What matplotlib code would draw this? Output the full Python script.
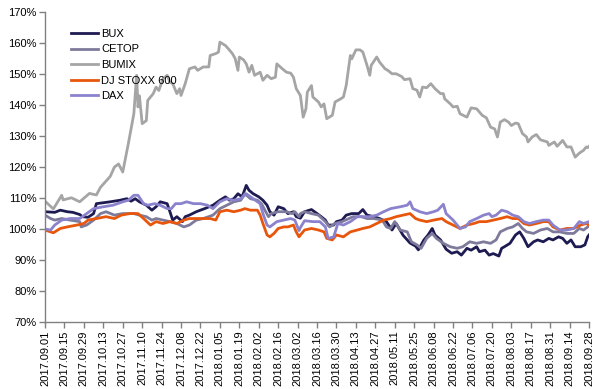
import numpy as np
import pandas as pd
import matplotlib
matplotlib.use("Agg")
import matplotlib.pyplot as plt
import matplotlib.dates as mdates
from matplotlib.ticker import FuncFormatter

plt.rcParams['font.family'] = ['Liberation Sans', 'DejaVu Sans']

start = pd.Timestamp('2017-09-01')
end = pd.Timestamp('2018-09-28')

# values in %, days counted from 2017.09.01
bumix_day = [0, 6, 12, 13, 19, 25, 32, 37, 40, 47, 50, 53, 56, 60, 64, 66, 67, 68, 70, 73,
             74, 78, 80, 82, 85, 88, 90, 92, 95, 97, 98, 101, 104, 108, 110, 114, 118, 119,
             123, 125, 126, 130, 132, 135, 137, 139, 140, 143, 145, 147, 149, 151, 155, 157,
             160, 163, 166, 167, 171, 174, 177, 179, 181, 184, 186, 188, 189, 192, 193, 197,
             199, 201, 203, 207, 209, 213, 215, 217, 220, 221, 224, 227, 229, 232, 234, 235,
             239, 241, 245, 247, 250, 253, 257, 259, 263, 265, 268, 270, 272, 275, 278, 281,
             285, 287, 288, 292, 294, 297, 299, 304, 307, 311, 315, 318, 321, 324, 326, 328,
             331, 334, 336, 339, 341, 344, 347, 348, 351, 354, 357, 362, 363, 367, 369, 373,
             376, 379, 382, 385, 388, 390, 391, 392]
bumix_val = [109.0, 106.5, 110.9, 109.4, 110.1, 108.8, 111.5, 111.0, 113.5, 117.0, 120.0, 121.0,
             118.4, 127.5, 137.2, 149.6, 139.4, 143.0, 134.0, 135.0, 141.5, 143.7, 145.8, 144.7,
             148.5, 149.6, 147.4, 146.9, 143.7, 145.3, 143.1, 146.9, 151.7, 152.3, 151.2, 152.3,
             152.3, 156.0, 156.6, 157.1, 160.3, 159.2, 158.2, 156.6, 155.0, 151.2, 155.5, 154.6,
             153.3, 150.6, 152.8, 149.6, 150.6, 148.0, 149.6, 148.5, 149.0, 153.3, 151.7, 150.6,
             150.3, 149.0, 145.3, 143.1, 136.1, 138.8, 144.2, 146.3, 142.6, 141.0, 139.4, 140.4,
             135.6, 136.7, 141.0, 142.0, 142.6, 146.3, 156.0, 154.9, 157.8, 157.8, 157.1, 152.8,
             149.6, 152.8, 155.5, 153.9, 151.7, 151.2, 150.1, 150.1, 149.2, 148.2, 148.5, 145.3,
             144.8, 142.6, 145.8, 145.6, 146.9, 145.3, 143.7, 143.7, 142.0, 140.4, 139.4, 139.6,
             137.2, 136.1, 139.1, 138.8, 136.7, 135.9, 132.9, 132.3, 129.7, 134.5, 135.3, 134.5,
             133.4, 134.2, 134.0, 130.8, 129.7, 128.1, 129.7, 130.5, 128.8, 128.1, 127.0, 128.1,
             126.7, 128.6, 126.5, 126.5, 123.2, 124.5, 125.4, 126.5, 126.3, 126.7]

bux_day = [0, 7, 11, 16, 20, 25, 27, 31, 35, 37, 47, 54, 59, 62, 65, 68, 73, 77, 80, 83, 88,
           90, 92, 95, 99, 101, 104, 109, 115, 121, 126, 130, 133, 136, 139, 142, 145, 147,
           150, 154, 157, 160, 162, 165, 168, 172, 175, 179, 181, 184, 187, 192, 196, 199, 202,
           204, 208, 210, 214, 217, 221, 226, 229, 232, 237, 241, 246, 250, 253, 258, 263, 267,
           269, 273, 276, 279, 281, 285, 289, 293, 297, 300, 304, 307, 311, 313, 317, 320, 323,
           327, 329, 331, 335, 339, 342, 345, 348, 352, 355, 359, 363, 366, 370, 373, 376, 379,
           382, 386, 389, 391, 392]
bux_val = [105.6, 105.4, 106.1, 105.6, 105.4, 104.7, 104.0, 103.8, 105.0, 108.2, 108.8, 109.3,
           109.8, 109.0, 109.8, 108.8, 107.7, 106.1, 107.2, 108.8, 108.2, 105.6, 102.9, 104.0,
           102.4, 104.0, 104.5, 105.6, 106.6, 107.7, 109.3, 110.4, 109.3, 109.8, 111.4, 110.4,
           114.1, 112.5, 111.4, 110.4, 109.3, 107.7, 105.6, 104.5, 107.2, 106.6, 105.0, 105.6,
           104.0, 103.5, 105.6, 106.3, 105.0, 104.0, 102.9, 101.3, 101.3, 102.4, 102.9, 104.5,
           105.0, 105.0, 106.3, 104.5, 104.0, 103.4, 102.4, 99.7, 101.8, 98.0, 95.5, 94.5, 93.3,
           96.5, 98.1, 100.2, 98.1, 96.5, 93.5, 92.2, 92.7, 91.6, 93.8, 93.2, 94.3, 92.7, 93.2,
           91.6, 92.1, 91.3, 93.8, 94.3, 95.4, 98.1, 99.1, 97.0, 94.3, 95.9, 96.5, 95.9, 97.0,
           96.5, 97.5, 97.0, 95.4, 96.5, 94.3, 94.3, 94.9, 97.5, 98.1]

cetop_day = [0, 4, 7, 12, 18, 25, 26, 30, 35, 40, 44, 50, 56, 64, 68, 73, 77, 80, 85, 90, 95,
             100, 104, 109, 114, 121, 126, 131, 136, 141, 144, 148, 153, 156, 159, 161, 163,
             168, 174, 178, 180, 183, 184, 187, 192, 197, 202, 205, 209, 214, 219, 222, 228,
             232, 237, 243, 246, 249, 252, 256, 261, 264, 268, 271, 275, 279, 282, 287, 292,
             297, 301, 306, 311, 316, 321, 325, 328, 333, 337, 341, 344, 347, 352, 357, 362,
             366, 371, 376, 381, 385, 388, 392]
cetop_val = [104.5, 103.4, 102.9, 103.4, 102.9, 102.4, 100.7, 101.3, 102.9, 105.0, 105.6, 104.5,
             105.0, 105.0, 104.5, 104.0, 102.9, 103.4, 102.9, 102.4, 101.8, 100.7, 101.3, 102.9,
             103.4, 104.5, 106.6, 107.7, 108.8, 109.3, 111.4, 109.8, 109.3, 108.2, 105.6, 104.0,
             105.0, 105.6, 105.6, 105.0, 105.6, 104.0, 105.0, 105.6, 105.0, 104.5, 102.4, 100.7,
             101.8, 102.4, 103.4, 104.0, 104.0, 103.4, 103.4, 102.9, 100.7, 100.2, 102.4, 99.7,
             99.1, 95.9, 94.9, 93.8, 97.0, 98.6, 97.0, 95.4, 94.3, 93.8, 94.3, 95.9, 95.4, 95.9,
             95.4, 96.5, 99.1, 100.2, 100.7, 101.8, 100.2, 99.1, 98.6, 99.7, 100.2, 99.1, 99.1,
             98.6, 98.6, 100.2, 99.7, 101.0]

stoxx_day = [0, 6, 11, 16, 23, 28, 31, 37, 44, 50, 55, 61, 67, 71, 76, 80, 85, 90, 95, 100,
             104, 112, 119, 123, 126, 131, 136, 141, 144, 148, 153, 155, 157, 160, 162, 165,
             168, 172, 175, 179, 181, 183, 184, 187, 192, 197, 201, 203, 207, 210, 215, 220,
             225, 229, 234, 239, 244, 249, 253, 258, 263, 267, 270, 275, 280, 286, 289, 294,
             299, 304, 309, 313, 318, 323, 328, 333, 337, 341, 345, 349, 354, 359, 363, 366,
             371, 376, 381, 386, 390, 392]
stoxx_val = [99.7, 98.8, 100.2, 100.7, 101.3, 101.8, 102.9, 103.4, 104.0, 103.4, 104.5, 105.0,
             105.0, 103.4, 101.3, 102.4, 101.8, 102.4, 101.8, 102.9, 103.4, 103.4, 103.4, 102.9,
             105.6, 106.1, 105.6, 106.1, 106.6, 106.1, 106.1, 104.5, 101.8, 98.1, 97.5, 98.6,
             100.2, 100.7, 100.7, 101.3, 99.1, 97.5, 98.1, 99.7, 100.2, 99.7, 99.1, 97.0, 96.5,
             98.1, 97.5, 99.1, 99.7, 100.2, 100.7, 101.8, 102.9, 103.4, 104.0, 104.5, 105.0,
             103.4, 102.9, 102.4, 102.9, 103.4, 102.4, 101.3, 100.2, 101.3, 101.8, 102.4, 102.4,
             102.9, 103.4, 104.0, 103.4, 103.4, 101.8, 101.3, 101.8, 102.4, 102.4, 100.7, 99.7,
             100.2, 100.2, 101.3, 101.8, 101.3]

dax_day = [0, 4, 7, 12, 18, 25, 30, 35, 42, 49, 56, 60, 64, 67, 71, 74, 79, 83, 88, 91, 94,
           98, 102, 107, 112, 117, 121, 126, 131, 136, 141, 145, 150, 155, 157, 160, 162, 167,
           172, 177, 180, 183, 184, 187, 193, 198, 202, 204, 208, 211, 215, 220, 225, 229, 234,
           239, 244, 249, 256, 261, 263, 265, 270, 275, 280, 283, 287, 289, 294, 299, 303, 306,
           311, 316, 320, 322, 325, 329, 333, 337, 341, 345, 349, 354, 359, 363, 366, 371, 376,
           381, 385, 388, 392]
dax_val = [100.0, 99.7, 101.3, 102.9, 103.4, 103.4, 105.0, 106.6, 107.2, 107.7, 108.8, 109.3,
           110.9, 110.9, 108.2, 107.7, 108.2, 107.7, 106.6, 106.6, 108.2, 108.2, 108.8, 108.2,
           108.2, 107.7, 106.6, 108.8, 109.8, 109.3, 109.8, 111.4, 109.8, 108.2, 105.0, 101.3,
           100.7, 102.4, 102.9, 103.4, 102.9, 99.5, 100.5, 102.7, 102.4, 102.4, 100.7, 97.0,
           97.5, 101.8, 101.3, 102.4, 104.0, 104.0, 104.0, 104.5, 105.6, 106.6, 107.2, 107.7,
           108.8, 106.6, 105.6, 105.0, 105.6, 106.1, 108.0, 105.0, 102.9, 100.2, 100.7, 102.4,
           103.4, 104.5, 105.0, 104.0, 104.5, 106.1, 105.6, 104.5, 104.0, 102.4, 101.8, 102.4,
           102.9, 102.9, 101.3, 99.7, 99.7, 100.2, 102.4, 101.8, 102.4]

series = [
    ('BUX', bux_day, bux_val, '#1e1b52'),
    ('CETOP', cetop_day, cetop_val, '#7d7a9c'),
    ('BUMIX', bumix_day, bumix_val, '#a5a5a5'),
    ('DJ STOXX 600', stoxx_day, stoxx_val, '#e8560c'),
    ('DAX', dax_day, dax_val, '#8a82cc'),
]

fig = plt.figure(figsize=(6.02, 3.89), dpi=100)
ax = fig.add_axes([0.0748, 0.172, 0.9037, 0.797])

for name, d, v, c in series:
    dates = start + pd.to_timedelta(d, unit='D')
    ax.plot(dates, v, color=c, lw=2.0, label=name, solid_joinstyle='round')

ax.set_xlim(start, end)
ax.set_ylim(70, 170)
ax.set_yticks(np.arange(70, 171, 10))
ax.yaxis.set_major_formatter(FuncFormatter(lambda y, p: f'{y:.0f}%'))

ticks = pd.date_range(start, end, freq='14D')
ax.set_xticks(ticks)
ax.xaxis.set_major_formatter(mdates.DateFormatter('%Y.%m.%d'))
plt.setp(ax.get_xticklabels(), rotation=90)

for s in ['top', 'right']:
    ax.spines[s].set_visible(False)
for s in ['left', 'bottom']:
    ax.spines[s].set_color('#808080')
    ax.spines[s].set_linewidth(1.0)
ax.tick_params(axis='both', colors='#808080', labelcolor='black', labelsize=8,
               length=4, width=1.0, direction='out', pad=2)

ax.legend(loc='upper left', bbox_to_anchor=(0.04, 0.96), frameon=False, fontsize=8,
          handlelength=2.4, handletextpad=0.3, labelspacing=0.5, borderaxespad=0)

fig.savefig('out.png', dpi=100)
